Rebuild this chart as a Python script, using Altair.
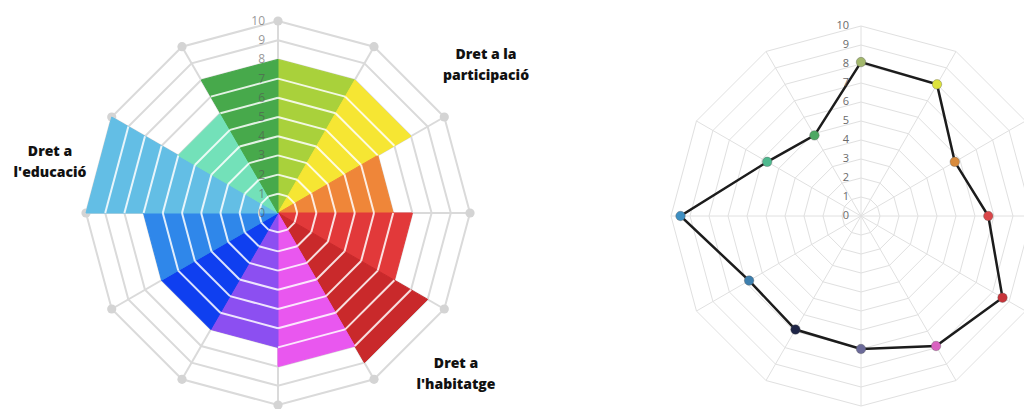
import math
import altair as alt
import pandas as pd

# ---------------- data ----------------
SPOKES = list(range(12))
LEFT_VALUES = [8, 8, 6, 7, 9, 8, 7, 7, 7, 10, 6, 8]
LEFT_COLORS = ["#a9d13b", "#f6e633", "#ef8639", "#e2393a", "#c9292b", "#e957ef",
               "#8c4ff1", "#0f3ff0", "#2f87ea", "#63bee5", "#73e1b9", "#47a94b"]
RIGHT_VALUES = [8.1, 8.0, 5.7, 6.7, 8.6, 7.9, 7.0, 6.9, 6.8, 9.5, 5.7, 4.9]
RIGHT_COLORS = ["#a3b86c", "#dde23c", "#d98b3c", "#d9474a", "#c7343a", "#d962c0",
                "#6b6a99", "#1f2547", "#3d7fae", "#3e8fc2", "#4fb98f", "#4da863"]
TICKS = list(range(11))
LEVELS = list(range(1, 11))
ANNOTATIONS = [["Dret a la", "participació"], ["Dret a", "l'educació"], ["Dret a", "l'habitatge"]]

# ---------------- layout ----------------
H = 401
L_W, L_CX, L_CY, L_UNIT = 540, 270, 205, 19.2
R_W, R_CX, R_CY, R_UNIT = 476, 313, 208, 19.0
ANNOT_POS = [(478, 47), (42, 144), (448, 356)]

SX = "datum.r * sin(datum.s * PI / 6)"
SY = "datum.r * cos(datum.s * PI / 6)"


def scales(w, cx, cy, unit):
    xs = alt.Scale(domain=[-cx / unit, (w - cx) / unit], nice=False, zero=False)
    ys = alt.Scale(domain=[-(H - cy) / unit, cy / unit], nice=False, zero=False)
    return xs, ys


def pos(xs, ys, xf="x", yf="y"):
    return dict(x=alt.X(f"{xf}:Q", scale=xs, axis=None),
                y=alt.Y(f"{yf}:Q", scale=ys, axis=None))


def rule_pos(xs, ys):
    return dict(x=alt.X("x0:Q", scale=xs, axis=None), y=alt.Y("y0:Q", scale=ys, axis=None),
                x2="x1:Q", y2="y1:Q")


# tables built from the arrays
ring_df = pd.DataFrame([{"level": L, "s": s, "r": L} for L in LEVELS for s in range(13)])
spoke_df = pd.DataFrame([{"s": s, "r": 10} for s in SPOKES])
tick_df = pd.DataFrame({"t": TICKS, "lab": [str(t) for t in TICKS]})

sector_rows = []
for i, v in zip(SPOKES, LEFT_VALUES):
    for k, (r, s) in enumerate([(0, i), (v, i), (v, i + 1), (0, i + 1)]):
        sector_rows.append({"i": i, "k": k, "r": r, "s": s})
sector_df = pd.DataFrame(sector_rows)

stripe_df = pd.DataFrame([{"i": i, "lev": k} for i, v in zip(SPOKES, LEFT_VALUES)
                          for k in range(1, int(v))])

right_df = pd.DataFrame([{"s": s, "r": RIGHT_VALUES[s % 12], "c": s % 12} for s in range(13)])

# ---------------- left panel ----------------
lxs, lys = scales(L_W, L_CX, L_CY, L_UNIT)

l_rings = alt.Chart(ring_df).transform_calculate(x=SX, y=SY).mark_line(
    color="#dadada", strokeWidth=2).encode(
    **pos(lxs, lys), detail="level:N", order="s:Q")

l_spokes = alt.Chart(spoke_df).transform_calculate(
    x0="0", y0="0", x1=SX, y1=SY).mark_rule(color="#dadada", strokeWidth=2).encode(
    **rule_pos(lxs, lys))

l_dots = alt.Chart(spoke_df).transform_calculate(x=SX, y=SY).mark_circle(
    color="#d4d4d4", size=85, opacity=1).encode(**pos(lxs, lys))

sec_scale = alt.Scale(domain=SPOKES, range=LEFT_COLORS)
l_sectors = alt.Chart(sector_df).transform_calculate(x=SX, y=SY).mark_line(
    strokeWidth=1, strokeJoin="miter").encode(
    **pos(lxs, lys), order="k:Q", detail="i:N",
    fill=alt.Fill("i:N", scale=sec_scale, legend=None),
    stroke=alt.Stroke("i:N", scale=sec_scale, legend=None))

l_stripes = alt.Chart(stripe_df).transform_calculate(
    x0="datum.lev * sin(datum.i * PI / 6)", y0="datum.lev * cos(datum.i * PI / 6)",
    x1="datum.lev * sin((datum.i + 1) * PI / 6)", y1="datum.lev * cos((datum.i + 1) * PI / 6)"
).mark_rule(color="#ffffff", strokeWidth=2, opacity=0.85).encode(**rule_pos(lxs, lys))

l_ticks = alt.Chart(tick_df).transform_calculate(z="0").mark_text(
    align="right", baseline="middle", dx=-13, fontSize=12, font="Open Sans",
    color="#555555", opacity=0.6).encode(**pos(lxs, lys, "z", "t"), text="lab:N")

l_annots = [
    alt.Chart(tick_df.head(1)).mark_text(
        align="center", baseline="middle", fontSize=14, fontWeight=800,
        font="Open Sans", color="#111111", lineHeight=21).encode(
        x=alt.value(px), y=alt.value(py), text=alt.value(txt))
    for txt, (px, py) in zip(ANNOTATIONS, ANNOT_POS)
]

left = alt.layer(l_rings, l_spokes, l_dots, l_sectors, l_stripes, l_ticks, *l_annots).properties(
    width=L_W, height=H)

# ---------------- right panel ----------------
rxs, rys = scales(R_W, R_CX, R_CY, R_UNIT)

r_rings = alt.Chart(ring_df).transform_calculate(x=SX, y=SY).mark_line(
    color="#e0e0e0", strokeWidth=1, clip=True).encode(
    **pos(rxs, rys), detail="level:N", order="s:Q")

r_spokes = alt.Chart(spoke_df).transform_calculate(
    x0="0", y0="0", x1=SX, y1=SY).mark_rule(color="#e0e0e0", strokeWidth=1, clip=True).encode(
    **rule_pos(rxs, rys))

r_line = alt.Chart(right_df).transform_calculate(x=SX, y=SY).mark_line(
    color="#1c1c1c", strokeWidth=2.5, clip=True).encode(**pos(rxs, rys), order="s:Q")

r_points = alt.Chart(right_df[right_df.s < 12]).transform_calculate(x=SX, y=SY).mark_circle(
    size=90, opacity=1, stroke="#555555", strokeWidth=0.6, strokeOpacity=0.6,
    clip=True).encode(
    **pos(rxs, rys),
    color=alt.Color("c:N", scale=alt.Scale(domain=SPOKES, range=RIGHT_COLORS), legend=None))

r_ticks = alt.Chart(tick_df).transform_calculate(z="0").mark_text(
    align="right", baseline="middle", dx=-12, fontSize=11, font="Open Sans",
    color="#6a6a6a").encode(**pos(rxs, rys, "z", "t"), text="lab:N")

right = alt.layer(r_rings, r_spokes, r_line, r_points, r_ticks).properties(width=R_W, height=H)

chart = alt.hconcat(left, right, spacing=0).resolve_scale(
    color="independent", fill="independent", stroke="independent").properties(
    padding=0, background="#ffffff").configure_view(strokeWidth=0, stroke="transparent")

chart.save("out.html", embed_options={"renderer": "svg", "actions": False})
